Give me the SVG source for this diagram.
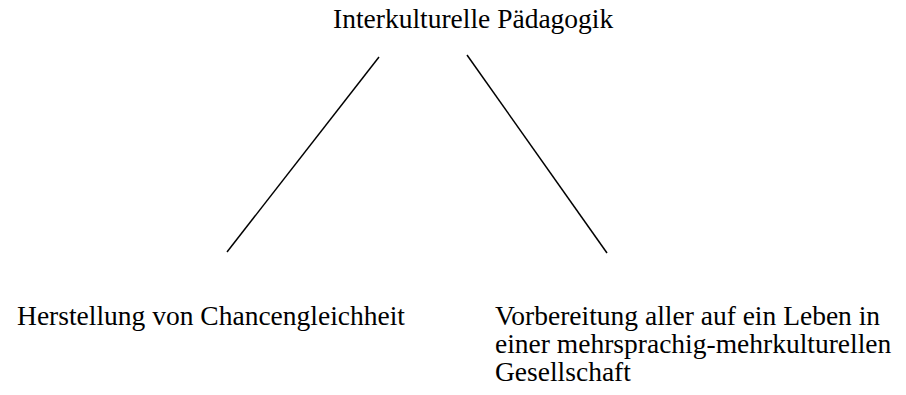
<svg xmlns="http://www.w3.org/2000/svg" width="906" height="395" viewBox="0 0 906 395">
<style>
text{font-family:"Liberation Serif","DejaVu Serif",serif;font-size:27.5px;fill:#000}
.c{stroke:#000;stroke-width:1.5;fill:none}
</style>
<rect width="906" height="395" fill="#fff"/>
<g id="root"><text x="333" y="28">Interkulturelle Pädagogik</text></g>
<g id="left"><text x="405" y="325" text-anchor="end">Herstellung von Chancengleichheit</text></g>
<g id="right">
<text x="495" y="325">Vorbereitung aller auf ein Leben in</text>
<text x="495" y="353">einer mehrsprachig-mehrkulturellen</text>
<text x="495" y="381">Gesellschaft</text>
</g>
<g id="connectors">
<line class="c" x1="379" y1="57" x2="227" y2="252"/>
<line class="c" x1="467" y1="55" x2="607" y2="253"/>
</g>
</svg>
